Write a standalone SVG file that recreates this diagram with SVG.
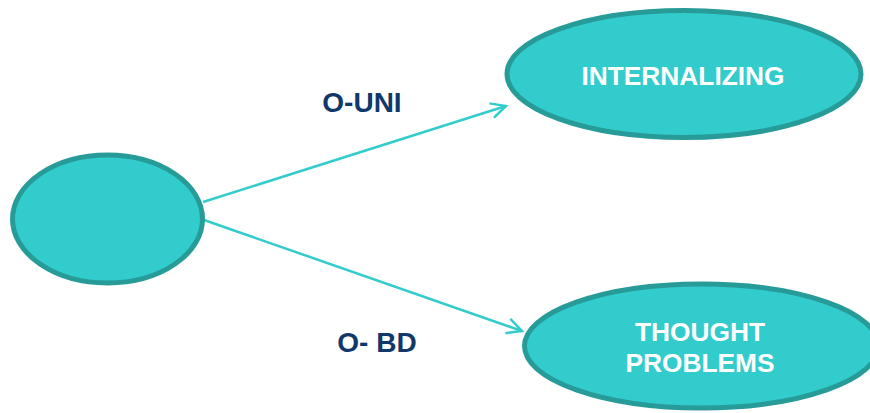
<svg xmlns="http://www.w3.org/2000/svg" width="870" height="413" viewBox="0 0 870 413">
  <defs>
    <style>
      .node { fill: #33CCCC; stroke: #269B98; stroke-width: 5; }
      .ntext { font-family: "Liberation Sans", Arial, sans-serif; font-weight: bold; font-size: 26.3px; fill: #FFFFFF; text-anchor: middle; }
      .label { font-family: "Liberation Sans", Arial, sans-serif; font-weight: bold; font-size: 28px; fill: #10386A; text-anchor: middle; }
      .conn { stroke: #33CCCC; stroke-width: 2.5; fill: none; }
    </style>
    <marker id="arrow" markerUnits="userSpaceOnUse" markerWidth="20" markerHeight="20" viewBox="-16 -10 20 20" refX="0" refY="0" orient="auto">
      <path d="M-15,-7.5 L0,0 L-15,7.5" fill="none" stroke="#33CCCC" stroke-width="2.5"/>
    </marker>
  </defs>
  <rect width="870" height="413" fill="#FFFFFF"/>
  <g id="connectors">
    <line class="conn" x1="203" y1="202" x2="506" y2="106" marker-end="url(#arrow)"/>
    <line class="conn" x1="204" y1="220" x2="522" y2="331" marker-end="url(#arrow)"/>
    <text class="label" x="362" y="112">O-UNI</text>
    <text class="label" x="377" y="352">O- BD</text>
  </g>
  <g id="node-source">
    <ellipse class="node" cx="107.5" cy="219" rx="95" ry="64"/>
  </g>
  <g id="node-internalizing">
    <ellipse class="node" cx="684" cy="74" rx="177" ry="63.5"/>
    <text class="ntext" x="683" y="85">INTERNALIZING</text>
  </g>
  <g id="node-thought">
    <ellipse class="node" cx="701.5" cy="346" rx="177" ry="62"/>
    <text class="ntext" x="700" y="341">THOUGHT</text>
    <text class="ntext" x="700" y="372">PROBLEMS</text>
  </g>
</svg>
